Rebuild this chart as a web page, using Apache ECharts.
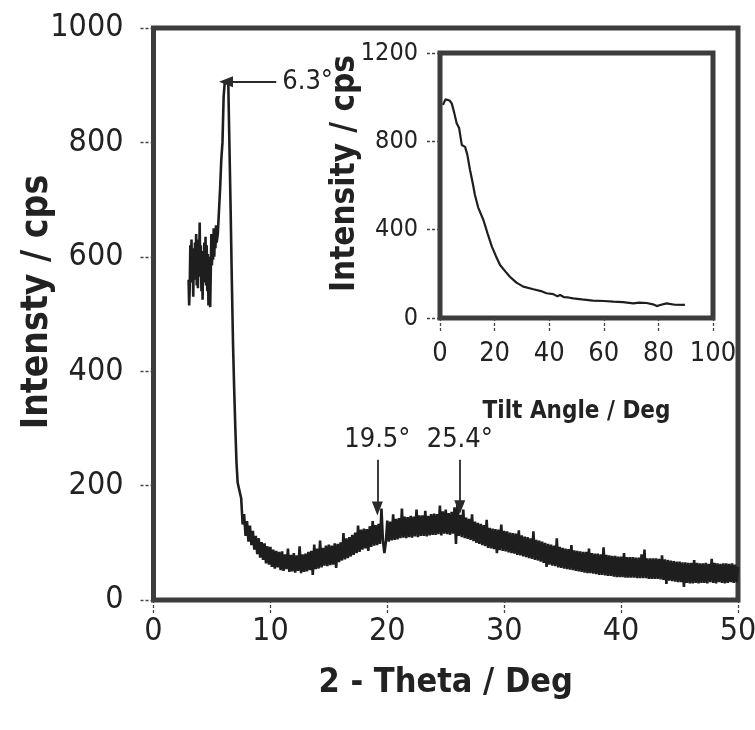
<!DOCTYPE html>
<html>
<head>
<meta charset="utf-8">
<script src="https://cdn.jsdelivr.net/npm/echarts@6/dist/echarts.min.js"></script>
<style>html,body{margin:0;padding:0;background:#fff}#c{width:755px;height:730px}</style>
</head>
<body>
<div id="c"></div>
<script>
// ---------- main XRD pattern ----------
// low-angle noisy block, 3.00 - 5.40 deg, step 0.05 deg
const blockStart = 3.0;
const blockStep = 0.05;
const blockIntensity = [
  560,515,545,620,575,630,555,615,530,600,   // 3.00 - 3.45
  560,625,570,640,550,615,545,630,580,660,   // 3.50 - 3.95
  565,620,540,610,525,600,555,625,560,635,   // 4.00 - 4.45
  550,620,540,605,515,600,560,512,575,640,   // 4.50 - 4.95
  585,635,595,650,600,640,615,655,625        // 5.00 - 5.40
];
// main peak region
const peakTheta = [5.5,5.6,5.7,5.8,5.9,6.0,6.1,6.2,6.3,6.4,6.5,6.6,6.7,6.8,6.9,7.0,7.1,7.2];
const peakIntensity = [640,680,720,770,800,880,906,906,906,900,790,680,560,450,370,300,240,205];
// noisy band from 7.5 deg to 50 deg, step 0.125 deg (rows: one degree each, 8 readings)
const bandStart = 7.5;
const bandStep = 0.125;
const bandIntensity = [
  178,132,150,112,                      // 7.5
  138,102,130,96,121,88,112,80,         // 8
  108,74,101,70,99,64,94,62,            // 9
  93,58,88,55,86,57,84,52,              // 10
  85,51,80,54,90,49,79,50,              // 11
  82,48,78,51,94,47,80,49,              // 12
  81,50,84,52,86,44,97,54,              // 13
  90,55,104,57,91,60,95,59,             // 14
  97,61,95,62,99,56,98,66,              // 15
  101,69,117,71,108,73,110,76,          // 16
  114,79,118,82,130,84,123,88,          // 17
  125,90,124,86,129,93,138,95,          // 18
  131,96,133,98,160,104,82,101,         // 19
  139,102,137,104,150,105,142,106,      // 20
  143,108,160,109,146,108,145,110,      // 21
  147,109,146,111,158,110,148,112,      // 22
  148,112,156,111,147,113,150,114,      // 23
  151,114,150,115,165,113,155,116,      // 24
  158,115,152,114,154,116,162,98,       // 25
  170,112,149,110,158,108,144,107,      // 26
  142,105,150,103,137,100,135,98,       // 27
  133,96,131,94,140,91,126,90,          // 28
  125,89,124,82,123,87,132,86,          // 29
  121,85,120,83,118,82,117,81,          // 30
  116,79,122,78,113,76,111,75,          // 31
  110,73,108,72,120,70,105,69,          // 32
  104,67,102,65,100,58,98,62,           // 33
  97,60,95,59,108,57,93,56,             // 34
  91,55,90,54,89,53,96,52,              // 35
  87,51,86,50,85,49,84,48,              // 36
  84,47,90,47,82,46,81,45,              // 37
  81,44,80,44,92,43,79,42,              // 38
  78,42,77,41,77,40,76,40,              // 39
  76,40,82,39,75,39,75,39,              // 40
  75,39,74,38,74,38,80,38,              // 41
  88,38,73,37,73,37,73,37,              // 42
  73,37,72,36,78,35,71,28,              // 43
  70,34,69,33,68,32,67,31,              // 44
  67,31,66,23,66,30,65,29,              // 45
  65,29,70,30,65,29,64,30,              // 46
  64,30,65,29,63,31,72,30,              // 47
  65,29,64,31,63,30,64,29,              // 48
  64,30,63,31,64,30,62,31,              // 49
  58                                    // 50
];
// ---------- inset: tilt-angle scan ----------
const tiltAngle = [1.1,2.0,2.7,3.5,4.3,5.2,6.1,7.0,8.0,9.2,10.0,11.0,12.0,12.8,14.0,15.9,17.5,19.0,20.5,22.0,24.0,25.6,28.0,30.5,
  34.2,37.0,39.0,41.5,43.0,44.0,45.5,47.0,48.8,52.0,56.0,60.0,63.5,67.0,70.8,73.0,75.7,78.0,79.4,81.0,83.0,86.0,89.7];
const tiltIntensity = [965,990,995,985,972,930,882,860,783,775,740,670,610,557,500,444,380,323,280,240,210,187,160,142,
  130,122,112,108,98,104,94,93,89,84,79,77,74,72,66,70,68,62,54,60,66,60,59];
// ---------- axis ticks / annotations ----------
const mainXTicks = {min:0, max:50, interval:10};
const mainYTicks = {min:0, max:1000, interval:200};
const insetXTicks = {min:0, max:100, interval:20};
const insetYTicks = {min:0, max:1200, interval:400};
const annotations = [
  {text:'6.3°', from:[10.5,906], to:[6.2,906]},
  {text:'19.5°', from:[19.15,245], to:[19.15,160]},
  {text:'25.4°', from:[26.2,245], to:[26.2,162]}
];

const mainData = blockIntensity.map((v,i)=>[+(blockStart + blockStep*i).toFixed(3), v]);
peakTheta.forEach((t,i)=>mainData.push([t, peakIntensity[i]]));
bandIntensity.forEach((v,i)=>mainData.push([+(bandStart + bandStep*i).toFixed(3), v]));
const insetData = tiltAngle.map((t,i)=>[t, tiltIntensity[i]]);

const FONT = "'Liberation Sans Narrow','Arial Narrow','DejaVu Sans Condensed','Liberation Sans',sans-serif";
const INK = '#222';
const tickStyle = {show:true, inside:false, length:13, lineStyle:{color:'#444', width:1.3, type:[3,2]}};
const plain = v => String(v);

const chart = echarts.init(document.getElementById('c'), null, {renderer:'canvas'});
chart.setOption({
  animation:false,
  backgroundColor:'#fff',
  grid:[
    {left:153.5, right:17, top:28, bottom:130, show:true, borderColor:'#3c3c3c', borderWidth:5,
     backgroundColor:'transparent', containLabel:false, outerBoundsMode:'none'},
    {left:440, right:42, top:53, bottom:412, show:true, borderColor:'#3c3c3c', borderWidth:5,
     backgroundColor:'#fff', containLabel:false, outerBoundsMode:'none'}
  ],
  xAxis:[
    {type:'value', gridIndex:0, ...mainXTicks, splitLine:{show:false}, axisLine:{show:false}, axisTick:tickStyle,
     axisLabel:{fontFamily:FONT, fontSize:32, color:INK, margin:16, formatter:plain},
     name:'2 - Theta / Deg', nameLocation:'middle', nameGap:66, nameMoveOverlap:false,
     nameTextStyle:{fontFamily:FONT, fontSize:34, fontWeight:'bold', color:INK}},
    {type:'value', gridIndex:1, ...insetXTicks, splitLine:{show:false}, axisLine:{show:false}, axisTick:tickStyle,
     axisLabel:{fontFamily:FONT, fontSize:27, color:INK, margin:22, formatter:plain},
     name:'Tilt Angle / Deg', nameLocation:'middle', nameGap:82, nameMoveOverlap:false,
     nameTextStyle:{fontFamily:FONT, fontSize:24, fontWeight:'bold', color:INK}}
  ],
  yAxis:[
    {type:'value', gridIndex:0, ...mainYTicks, splitLine:{show:false}, axisLine:{show:false}, axisTick:tickStyle,
     axisLabel:{fontFamily:FONT, fontSize:32, color:INK, margin:30, formatter:plain},
     name:'Intensty / cps', nameLocation:'middle', nameGap:98, nameRotate:90, nameMoveOverlap:false,
     nameTextStyle:{fontFamily:FONT, fontSize:37, fontWeight:'bold', color:INK, padding:[0,0,0,24]}},
    {type:'value', gridIndex:1, ...insetYTicks, splitLine:{show:false}, axisLine:{show:false}, axisTick:tickStyle,
     axisLabel:{fontFamily:FONT, fontSize:25, color:INK, margin:22, formatter:plain},
     name:'Intensity / cps', nameLocation:'middle', nameGap:78, nameRotate:90, nameMoveOverlap:false,
     nameTextStyle:{fontFamily:FONT, fontSize:33, fontWeight:'bold', color:INK, padding:[0,0,0,24]}}
  ],
  series:[
    {type:'line', xAxisIndex:0, yAxisIndex:0, data:mainData, showSymbol:false, symbol:'none',
     lineStyle:{color:'#1e1e1e', width:2.6}, z:3,
     markLine:{silent:true, symbol:['none','triangle'], symbolSize:[11,14],
       lineStyle:{color:'#2a2a2a', width:1.8, type:'solid'},
       label:{show:true, position:'start', distance:6, fontFamily:FONT, fontSize:27, color:INK,
              formatter:p=>p.data.name},
       data:annotations.map(a=>[{name:a.text, coord:a.from},{coord:a.to}])}},
    {type:'line', xAxisIndex:1, yAxisIndex:1, data:insetData, showSymbol:false, symbol:'none',
     lineStyle:{color:'#1e1e1e', width:2.2}, z:3}
  ]
});
</script>
</body>
</html>
